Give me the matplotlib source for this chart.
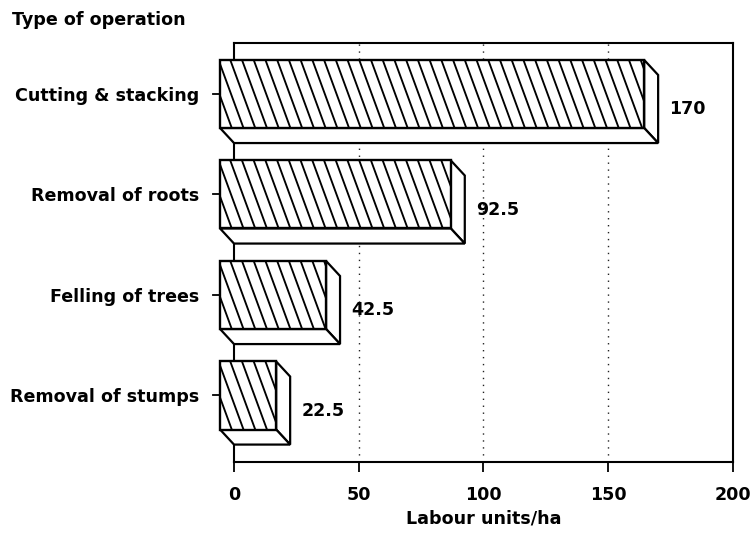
import matplotlib.pyplot as plt
import numpy as np
from matplotlib.patches import Polygon
from matplotlib.collections import LineCollection

# data
operations = ["Cutting & stacking", "Removal of roots", "Felling of trees", "Removal of stumps"]
labour = [170, 92.5, 42.5, 22.5]
value_labels = ["170", "92.5", "42.5", "22.5"]
x_ticks = [0, 50, 100, 150, 200]
grid_x = [50, 100, 150]

FS = 12.6
plt.rcParams.update({
    'font.family': 'DejaVu Sans',
    'font.weight': 'bold',
    'font.size': FS,
    'axes.linewidth': 1.5,
})

fig = plt.figure(figsize=(7.51, 5.34), dpi=100)
ax = fig.add_axes([0.3116, 0.1348, 0.6644, 0.7847])

positions = np.arange(len(operations))
bar_h = 0.677
dx, dy = 5.6, 0.15          # 3-D depth offset of front face (data units)
hatch_step, hatch_shift = 4.7, 10.0

ax.set_xlim(0, 200)
ax.set_ylim(3.512, -0.657)

# dotted reference lines
for g in grid_x:
    ax.axvline(g, color='#222222', lw=1.0, ls=(0, (1, 4)), zorder=1)

fronts = ax.barh(positions - dy, labour, left=-dx, height=bar_h,
                 facecolor='white', edgecolor='black', linewidth=1.7,
                 zorder=5, clip_on=False)

for pos, v, rect, lab in zip(positions, labour, fronts, value_labels):
    top, bot = pos - bar_h / 2, pos + bar_h / 2
    side = Polygon([(v - dx, top - dy), (v, top), (v, bot), (v - dx, bot - dy)],
                   closed=True, facecolor='white', edgecolor='black',
                   linewidth=1.6, zorder=4, clip_on=False)
    base = Polygon([(-dx, bot - dy), (0, bot), (v, bot), (v - dx, bot - dy)],
                   closed=True, facecolor='white', edgecolor='black',
                   linewidth=1.6, zorder=4, clip_on=False)
    ax.add_patch(side)
    ax.add_patch(base)

    # steep back-slash hatching on the front face
    starts = np.arange(-dx - hatch_shift, v - dx + hatch_step, hatch_step)
    segs = [[(a, top - dy), (a + hatch_shift, bot - dy)] for a in starts]
    lc = LineCollection(segs, colors='black', linewidths=1.35, zorder=6)
    ax.add_collection(lc)
    lc.set_clip_path(rect)

    # small category tick left of the front face
    ax.plot([-dx - 3, -dx], [pos - dy, pos - dy], color='black', lw=1.3,
            clip_on=False, zorder=6)

    ax.text(v + 4.5, pos, lab, ha='left', va='center', fontsize=FS,
            fontweight='bold', zorder=7)

ax.set_yticks(positions - dy)
ax.set_yticklabels(operations)
ax.tick_params(axis='y', length=0, pad=25, labelsize=FS)
ax.set_xticks(x_ticks)
ax.tick_params(axis='x', direction='out', length=7, width=1.3, pad=10, labelsize=FS)
ax.set_xlabel('Labour units/ha', fontsize=FS, fontweight='bold', labelpad=4)

fig.text(0.016, 1 - 20 / 534, 'Type of operation', ha='left', va='center',
         fontsize=FS, fontweight='bold')

fig.savefig('out.png', dpi=100)
